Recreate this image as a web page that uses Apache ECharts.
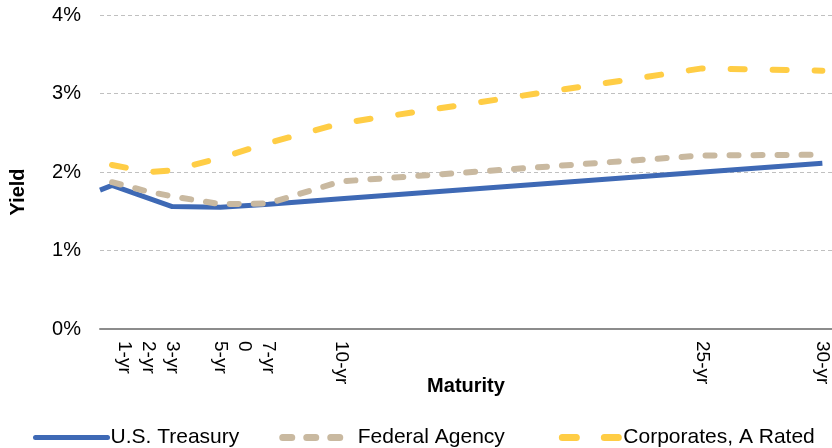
<!DOCTYPE html>
<html>
<head>
<meta charset="utf-8">
<script src="https://cdn.jsdelivr.net/npm/echarts@6/dist/echarts.min.js"></script>
<style>
html, body { margin: 0; padding: 0; background: #fff; }
#chart { width: 832px; height: 448px; }
</style>
</head>
<body>
<div id="chart"></div>
<script>
// maturity (years) / yield (%)
const treasuryX = [0, 0.5, 3, 5, 7, 10, 30];
const treasuryY = [1.77, 1.83, 1.56, 1.55, 1.59, 1.66, 2.11];
const agencyX = [0.5, 2, 3, 5, 7, 10, 25, 30];
const agencyY = [1.87, 1.75, 1.69, 1.59, 1.60, 1.88, 2.21, 2.22];
const corpX = [0.5, 2, 3, 5, 7, 10, 25, 30];
const corpY = [2.09, 2.0, 2.02, 2.18, 2.37, 2.62, 3.32, 3.29];

const tickValues = [1, 2, 3, 5, 6, 7, 10, 25, 30];
const tickLabels = ['1-yr', '2-yr', '3-yr', '5-yr', '0', '7-yr', '10-yr', '25-yr', '30-yr'];

const font = '"Liberation Sans", Arial, sans-serif';
const blue = '#3e69b5';
const tan = '#c9b9a0';
const yellow = '#ffcd45';

function pairs(xs, ys) {
    return xs.map((x, i) => [x, ys[i]]);
}

const myChart = echarts.init(document.getElementById('chart'));
const option = {
    animation: false,
    textStyle: { fontFamily: font },
    grid: { left: 98, right: 0, top: 15, bottom: 119, containLabel: false },
    legend: {
        top: 422,
        left: 28,
        itemWidth: 72,
        itemHeight: 14,
        itemGap: 40,
        textStyle: { fontSize: 21, color: '#000', fontFamily: font, padding: [0, 0, 0, -2] },
        data: [
            { name: 'U.S. Treasury', itemStyle: { opacity: 0 }, lineStyle: { width: 5, color: blue, cap: 'round' } },
            { name: 'Federal Agency', itemStyle: { opacity: 0 }, lineStyle: { width: 7, color: tan, type: [9, 15], cap: 'round' } },
            { name: 'Corporates, A Rated', itemStyle: { opacity: 0 }, lineStyle: { width: 7, color: yellow, type: [14, 28], cap: 'round', dashOffset: -14 } }
        ]
    },
    xAxis: {
        type: 'value',
        min: 0,
        max: 30.4,
        name: 'Maturity',
        nameLocation: 'middle',
        nameGap: 47,
        nameMoveOverlap: false,
        nameTextStyle: { fontSize: 20, fontWeight: 'bold', color: '#000', fontFamily: font },
        axisLine: { show: true, lineStyle: { color: '#8c8c8c', width: 2 } },
        axisTick: { show: false },
        splitLine: { show: false },
        axisLabel: {
            customValues: tickValues,
            rotate: -90,
            fontSize: 19,
            color: '#000',
            margin: 12,
            formatter: function (v) {
                const i = tickValues.indexOf(v);
                return i >= 0 ? tickLabels[i] : '';
            }
        }
    },
    yAxis: {
        type: 'value',
        min: 0,
        max: 4,
        interval: 1,
        name: 'Yield',
        nameLocation: 'middle',
        nameGap: 72,
        nameMoveOverlap: false,
        nameTextStyle: { fontSize: 20, fontWeight: 'bold', color: '#000', fontFamily: font, padding: [0, 40, 0, 0] },
        axisLine: { show: false },
        axisTick: { show: false },
        axisLabel: {
            fontSize: 20,
            color: '#000',
            margin: 19,
            formatter: function (v) { return v + '%'; }
        },
        splitLine: { lineStyle: { color: '#c0c0c0', type: [4, 3], width: 1 } }
    },
    series: [
        {
            name: 'U.S. Treasury',
            type: 'line',
            symbol: 'none',
            z: 3,
            data: pairs(treasuryX, treasuryY),
            lineStyle: { color: blue, width: 5 },
            itemStyle: { color: blue }
        },
        {
            name: 'Federal Agency',
            type: 'line',
            symbol: 'none',
            z: 4,
            data: pairs(agencyX, agencyY),
            lineStyle: { color: tan, width: 6, type: [9, 15], cap: 'round' },
            itemStyle: { color: tan }
        },
        {
            name: 'Corporates, A Rated',
            type: 'line',
            symbol: 'none',
            z: 5,
            data: pairs(corpX, corpY),
            lineStyle: { color: yellow, width: 6, type: [14, 28], cap: 'round' },
            itemStyle: { color: yellow }
        }
    ]
};
myChart.setOption(option);
window.addEventListener('resize', () => {
    myChart.resize();
});
</script>
</body>
</html>
